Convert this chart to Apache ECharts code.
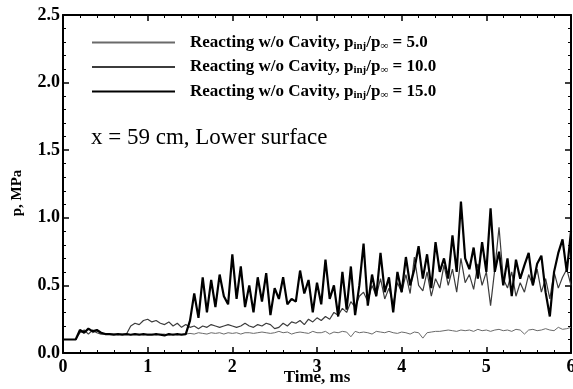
<!DOCTYPE html>
<html>
<head>
<meta charset="utf-8">
<script src="https://cdn.jsdelivr.net/npm/echarts@6/dist/echarts.min.js"></script>
<style>
  html, body { margin: 0; padding: 0; background: #fff; }
  #chart { width: 573px; height: 389px; }
</style>
</head>
<body>
<div id="chart"></div>
<script>
// sample times, ms (every 0.05 ms from 0 to 6)
var times = [];
for (var i = 0; i <= 120; i++) { times.push(+(i * 0.05).toFixed(2)); }

// pressure, MPa
var p5 = [
  0.10, 0.10, 0.10, 0.10,
  0.16, 0.15, 0.18, 0.15, 0.16, 0.15, 0.14,
  0.14, 0.14, 0.135, 0.14, 0.14, 0.135, 0.14, 0.14, 0.135, 0.14,
  0.14, 0.135, 0.14, 0.14, 0.13, 0.14, 0.135, 0.14, 0.14, 0.145,
  0.14, 0.15, 0.145, 0.14, 0.15, 0.145, 0.15, 0.14, 0.15, 0.145,
  0.15, 0.14, 0.15, 0.15, 0.145, 0.15, 0.155, 0.15, 0.145, 0.15,
  0.16, 0.15, 0.155, 0.14, 0.15, 0.155, 0.15, 0.145, 0.16, 0.15,
  0.15, 0.16, 0.14, 0.155, 0.15, 0.16, 0.155, 0.12, 0.16, 0.15,
  0.155, 0.15, 0.14, 0.16, 0.155, 0.15, 0.16, 0.15, 0.145, 0.155,
  0.15, 0.14, 0.155, 0.15, 0.11, 0.15, 0.155, 0.16, 0.16, 0.165,
  0.17, 0.165, 0.16, 0.17, 0.165, 0.17, 0.16, 0.175, 0.165, 0.17,
  0.16, 0.17, 0.175, 0.165, 0.17, 0.16, 0.175, 0.17, 0.14, 0.17,
  0.175, 0.165, 0.17, 0.18, 0.17, 0.165, 0.19, 0.175, 0.18, 0.19
];
var p10 = [
  0.10, 0.10, 0.10, 0.10,
  0.15, 0.17, 0.14, 0.17, 0.15, 0.14, 0.14,
  0.14, 0.14, 0.14, 0.14, 0.14, 0.20, 0.22, 0.21, 0.24, 0.25,
  0.23, 0.24, 0.22, 0.21, 0.23, 0.20, 0.22, 0.19, 0.21, 0.19,
  0.20, 0.18, 0.20, 0.19, 0.21, 0.20, 0.19, 0.20, 0.21, 0.20,
  0.19, 0.20, 0.22, 0.20, 0.19, 0.21, 0.20, 0.22, 0.21, 0.18,
  0.19, 0.22, 0.20, 0.23, 0.22, 0.24, 0.21, 0.25, 0.23, 0.26,
  0.24, 0.27, 0.25, 0.30, 0.28, 0.33, 0.30, 0.38, 0.34, 0.42,
  0.45, 0.38, 0.50, 0.42, 0.55, 0.40, 0.48, 0.36, 0.52, 0.45,
  0.58, 0.44, 0.71, 0.50, 0.46, 0.60, 0.42, 0.55, 0.48, 0.65,
  0.50, 0.62, 0.45, 0.70, 0.52, 0.58, 0.47, 0.66, 0.50, 0.60,
  0.35, 0.62, 0.93, 0.55, 0.48, 0.60, 0.42, 0.52, 0.45, 0.58,
  0.50, 0.62, 0.45, 0.55, 0.40, 0.60, 0.48, 0.56, 0.62, 0.50
];
var p15 = [
  0.10, 0.10, 0.10, 0.10,
  0.17, 0.15, 0.18, 0.16, 0.17, 0.15, 0.14,
  0.14, 0.135, 0.14, 0.135, 0.14, 0.135, 0.14, 0.135, 0.14, 0.135,
  0.135, 0.14, 0.135, 0.13, 0.14, 0.135, 0.14, 0.135, 0.14, 0.24,
  0.44, 0.26, 0.56, 0.30, 0.54, 0.34, 0.58, 0.42, 0.36, 0.73,
  0.40, 0.64, 0.34, 0.50, 0.30, 0.56, 0.38, 0.59, 0.28, 0.48,
  0.40, 0.56, 0.36, 0.40, 0.38, 0.61, 0.44, 0.54, 0.30, 0.52,
  0.36, 0.69, 0.40, 0.50, 0.27, 0.60, 0.32, 0.64, 0.28, 0.50,
  0.81, 0.35, 0.58, 0.42, 0.74, 0.45, 0.56, 0.30, 0.60, 0.45,
  0.71, 0.50, 0.62, 0.79, 0.55, 0.73, 0.48, 0.82, 0.60, 0.70,
  0.55, 0.87, 0.60, 1.12, 0.70, 0.62, 0.78, 0.55, 0.82, 0.60,
  1.07, 0.60, 0.75, 0.50, 0.70, 0.42, 0.69, 0.55, 0.65, 0.74,
  0.50, 0.66, 0.72, 0.45, 0.27, 0.60, 0.74, 0.84, 0.60, 0.90
];

var seriesNames = ['5.0', '10.0', '15.0'];
var seriesColors = ['#6a6a6a', '#3c3c3c', '#000000'];
var seriesWidths = [1, 1.2, 2.2];

function pairs(vals) {
    return vals.map(function (v, k) { return [times[k], v]; });
}

var serif = '"Liberation Serif", "DejaVu Serif", serif';
var chart = echarts.init(document.getElementById('chart'));

var axisCommon = {
    axisLine: { show: true, onZero: false, lineStyle: { color: '#000', width: 2 } },
    axisTick: { show: true, inside: true, length: 6, lineStyle: { color: '#000', width: 1.5 } },
    minorTick: { show: true, splitNumber: 5, length: 3, lineStyle: { color: '#000', width: 1 } },
    splitLine: { show: false }
};

var option = {
    animation: false,
    backgroundColor: '#fff',
    grid: { left: 63, right: 2, top: 15, bottom: 36, containLabel: false, outerBoundsMode: 'none' },
    title: {
        text: 'x = 59 cm, Lower surface',
        left: 91, top: 126, padding: 0,
        textStyle: { fontFamily: serif, fontWeight: 'normal', fontSize: 23, color: '#000' }
    },
    legend: {
        orient: 'vertical',
        left: 92, top: 34, padding: 0,
        itemWidth: 83, itemHeight: 2, itemGap: 7,
        icon: 'rect',
        data: seriesNames,
        formatter: function (name) {
            return '{b|Reacting w/o Cavity, p}{s|inj}{b|/p}{s|\u221e}{b| = ' + name + '}';
        },
        textStyle: {
            padding: [0, 0, 0, 10],
            rich: {
                b: { fontFamily: serif, fontWeight: 'bold', fontSize: 17, lineHeight: 20, color: '#000' },
                s: { fontFamily: serif, fontWeight: 'bold', fontSize: 11, color: '#000', padding: [7, 0, 0, 0] }
            }
        }
    },
    xAxis: [
        Object.assign({
            type: 'value', min: 0, max: 6, interval: 1,
            name: 'Time, ms', nameLocation: 'middle', nameGap: 16, nameMoveOverlap: false,
            nameTextStyle: { fontFamily: serif, fontWeight: 'bold', fontSize: 17, color: '#000' },
            axisLabel: { fontFamily: serif, fontWeight: 'bold', fontSize: 18, color: '#000', margin: 5 }
        }, axisCommon),
        Object.assign({
            type: 'value', min: 0, max: 6, interval: 1, position: 'top',
            axisLabel: { show: false }
        }, axisCommon)
    ],
    yAxis: [
        Object.assign({
            type: 'value', min: 0, max: 2.5, interval: 0.5,
            name: 'p, MPa', nameLocation: 'middle', nameGap: 38, nameMoveOverlap: false,
            nameTextStyle: { fontFamily: serif, fontWeight: 'bold', fontSize: 15, color: '#000', padding: [0, 18, 0, 0] },
            axisLabel: {
                fontFamily: serif, fontWeight: 'bold', fontSize: 18, color: '#000', margin: 3,
                formatter: function (v) { return v.toFixed(1); }
            }
        }, axisCommon),
        Object.assign({
            type: 'value', min: 0, max: 2.5, interval: 0.5, position: 'right',
            axisLabel: { show: false }
        }, axisCommon)
    ],
    series: seriesNames.map(function (n, k) {
        return {
            name: n,
            type: 'line',
            xAxisIndex: 0, yAxisIndex: 0,
            symbol: 'none',
            data: pairs([p5, p10, p15][k]),
            itemStyle: { color: seriesColors[k] },
            lineStyle: { color: seriesColors[k], width: seriesWidths[k] },
            z: 2 + k
        };
    })
};

chart.setOption(option);
</script>
</body>
</html>
